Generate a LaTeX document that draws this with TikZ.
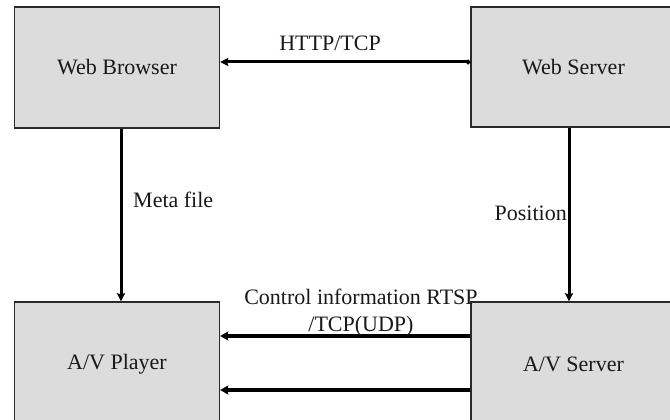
\documentclass[tikz,border=0pt]{standalone}
\usepackage{fontspec}
\setmainfont{Liberation Serif}
\usetikzlibrary{arrows.meta}
\definecolor{boxfill}{HTML}{DCDCDC}
\definecolor{boxline}{HTML}{2A2A2A}
\tikzset{
  box/.style={draw=boxline, line width=1.4pt, fill=boxfill, minimum width=205pt, inner sep=0pt,
    font=\fontsize{22}{25}\selectfont, text=black!90},
  lbl/.style={font=\fontsize{22}{27}\selectfont, text=black!90, inner sep=0pt, align=center},
  arr/.style={line width=3pt, -{Stealth[length=8pt,width=8pt,inset=1pt]}},
  arrthick/.style={line width=3.8pt, -{Stealth[length=8pt,width=9pt,inset=1pt]}},
}
\begin{document}
\begin{tikzpicture}[x=1pt,y=-1pt]
\useasboundingbox (0,0) rectangle (670,420);
\fill[white] (0,0) rectangle (670,420);
\clip (0,0) rectangle (670,420);
\node[box, minimum height=121pt] (wb) at (117,67.5) {Web Browser};
\node[box, minimum height=120pt] (ws) at (573.5,67) {Web Server};
\node[box, minimum height=124pt] (avp) at (117,364) {A/V Player};
\node[box, minimum height=124pt] (avs) at (573.5,364) {A/V Server};
\coordinate (h1) at (0,62);
\coordinate (c1) at (0,336);
\coordinate (c2) at (0,390);
\draw[line width=3pt, {Circle[length=4.5pt]}-{Stealth[length=8pt,width=8pt,inset=1pt]}] (ws.west |- h1) -- (wb.east |- h1);
\draw[arr] ([xshift=4pt]wb.south) -- ([xshift=4pt]avp.north);
\draw[arr] ([xshift=-4.5pt]ws.south) -- ([xshift=-4.5pt]avs.north);
\draw[arrthick] (avs.west |- c1) -- (avp.east |- c1);
\draw[arrthick] (avs.west |- c2) -- (avp.east |- c2);
\node[lbl] (lh) at (330,43) {HTTP/TCP};
\node[lbl, anchor=west] (lm) at (133,200) {Meta file};
\node[lbl, anchor=east] (lp) at (567,213) {Position};
\node[lbl] (lc) at (361,313) {Control information RTSP\\/TCP(UDP)};
\end{tikzpicture}
\end{document}
